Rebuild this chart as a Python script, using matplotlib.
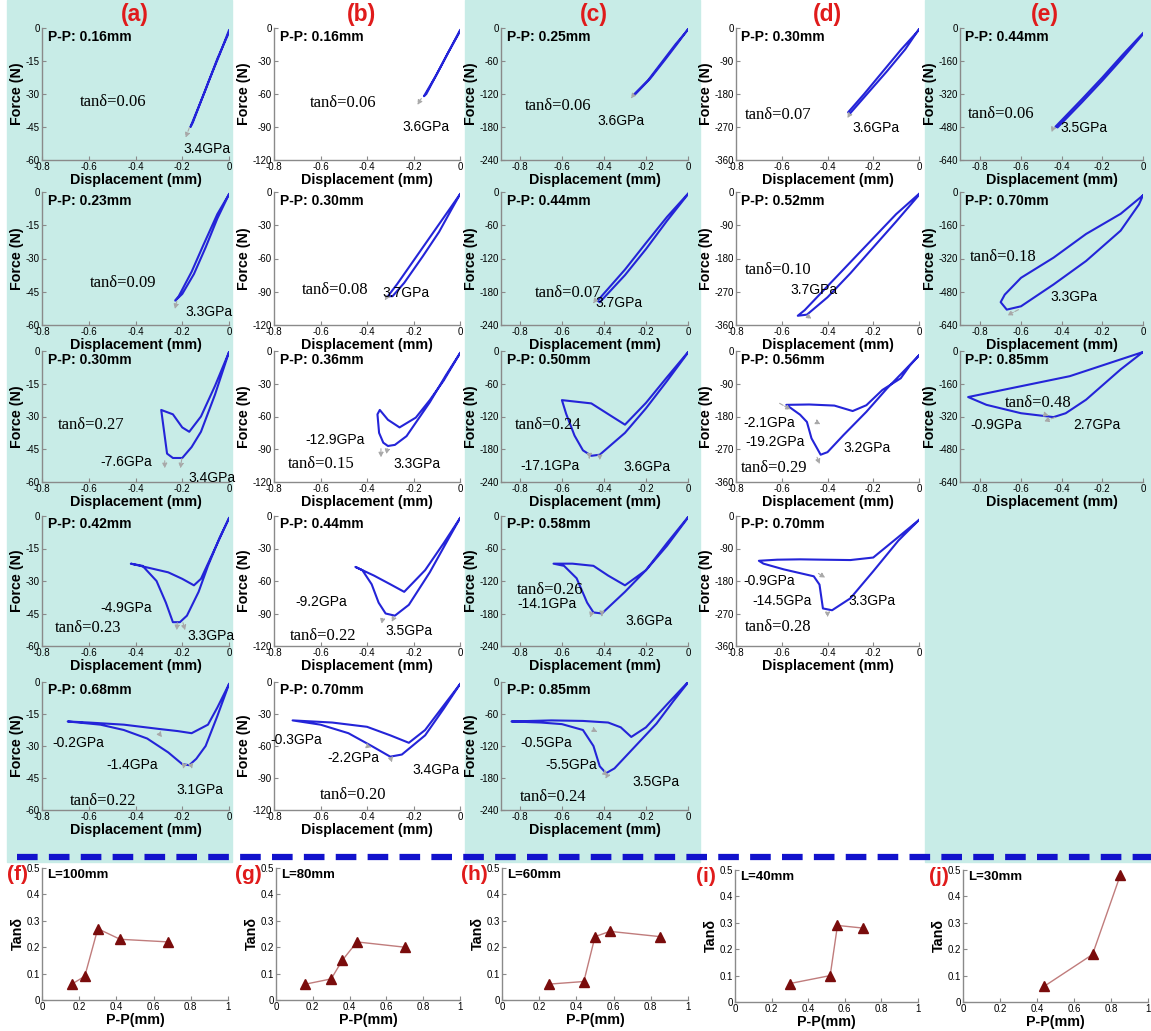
import matplotlib.pyplot as plt
from matplotlib.patches import Rectangle
from matplotlib.lines import Line2D

plt.rcParams['font.family'] = ['Liberation Sans', 'DejaVu Sans']

# ---------------- data ----------------
# peak-to-peak displacement and loss factor for each column
pp_a = [0.16, 0.23, 0.30, 0.42, 0.68]
tan_a = [0.06, 0.09, 0.27, 0.23, 0.22]
pp_b = [0.16, 0.30, 0.36, 0.44, 0.70]
tan_b = [0.06, 0.08, 0.15, 0.22, 0.20]
pp_c = [0.25, 0.44, 0.50, 0.58, 0.85]
tan_c = [0.06, 0.07, 0.24, 0.26, 0.24]
pp_d = [0.30, 0.52, 0.56, 0.70]
tan_d = [0.07, 0.10, 0.29, 0.28]
pp_e = [0.44, 0.70, 0.85]
tan_e = [0.06, 0.18, 0.48]
lengths = ['L=100mm', 'L=80mm', 'L=60mm', 'L=40mm', 'L=30mm']

# modulus labels per panel
mod_a = [['3.4GPa'], ['3.3GPa'], ['-7.6GPa', '3.4GPa'], ['-4.9GPa', '3.3GPa'],
         ['-0.2GPa', '-1.4GPa', '3.1GPa']]
mod_b = [['3.6GPa'], ['3.7GPa'], ['-12.9GPa', '3.3GPa'], ['-9.2GPa', '3.5GPa'],
         ['-0.3GPa', '-2.2GPa', '3.4GPa']]
mod_c = [['3.6GPa'], ['3.7GPa'], ['-17.1GPa', '3.6GPa'], ['-14.1GPa', '3.6GPa'],
         ['-0.5GPa', '-5.5GPa', '3.5GPa']]
mod_d = [['3.6GPa'], ['3.7GPa'], ['-2.1GPa', '-19.2GPa', '3.2GPa'],
         ['-0.9GPa', '-14.5GPa', '3.3GPa']]
mod_e = [['3.5GPa'], ['3.3GPa'], ['-0.9GPa', '2.7GPa']]

# hysteresis loops (displacement mm, force N)
loop_a1 = [(0, -2), (-0.05, -14), (-0.1, -28), (-0.165, -45), (-0.155, -43), (-0.09, -25), (-0.04, -12), (0, -1)]
loop_a2 = [(0, -1), (-0.05, -12), (-0.1, -25), (-0.15, -37), (-0.2, -46), (-0.23, -49), (-0.215, -47),
           (-0.16, -36), (-0.11, -24), (-0.05, -10), (0, -1)]
loop_a3 = [(0, -0.5), (-0.06, -16), (-0.12, -30), (-0.17, -37), (-0.2, -35), (-0.24, -29), (-0.29, -27),
           (-0.28, -35), (-0.265, -47), (-0.24, -49), (-0.2, -49), (-0.16, -44), (-0.12, -37),
           (-0.06, -20), (0, -0.5)]
loop_a4 = [(0, -1), (-0.06, -15), (-0.12, -29), (-0.15, -32), (-0.2, -29), (-0.26, -26), (-0.34, -24),
           (-0.42, -22), (-0.37, -23), (-0.31, -30), (-0.27, -40), (-0.24, -49), (-0.21, -49),
           (-0.18, -46), (-0.13, -35), (-0.09, -23), (-0.04, -10), (0, -1)]
loop_a5 = [(0, -1), (-0.05, -12), (-0.09, -20), (-0.16, -24), (-0.22, -23), (-0.3, -22), (-0.45, -20),
           (-0.6, -19), (-0.69, -18.5), (-0.55, -20), (-0.45, -22.5), (-0.35, -26.5), (-0.26, -33),
           (-0.2, -38.5), (-0.17, -39), (-0.14, -36), (-0.1, -30), (-0.05, -16), (0, -1)]
loop_b1 = [(0, -3), (-0.05, -22), (-0.1, -42), (-0.155, -62), (-0.145, -60), (-0.095, -40), (-0.045, -20), (0, -2)]
loop_b2 = [(0, -2), (-0.06, -20), (-0.12, -38), (-0.2, -62), (-0.27, -83), (-0.31, -94), (-0.29, -94),
           (-0.24, -82), (-0.16, -58), (-0.09, -36), (-0.04, -17), (0, -2)]
loop_b3 = [(0, -2), (-0.07, -27), (-0.13, -45), (-0.19, -61), (-0.26, -70), (-0.31, -63), (-0.345, -54),
           (-0.355, -58), (-0.348, -75), (-0.33, -84), (-0.31, -87), (-0.28, -86), (-0.23, -78),
           (-0.13, -47), (-0.06, -22), (0, -2)]
loop_b4 = [(0, -2), (-0.07, -25), (-0.15, -50), (-0.24, -70), (-0.3, -63), (-0.37, -55), (-0.45, -47),
           (-0.42, -50), (-0.38, -63), (-0.35, -80), (-0.32, -90), (-0.28, -92), (-0.22, -82),
           (-0.13, -52), (-0.06, -25), (0, -2)]
loop_b5 = [(0, -2), (-0.07, -22), (-0.15, -45), (-0.22, -57), (-0.3, -50), (-0.4, -42), (-0.55, -38),
           (-0.72, -36), (-0.6, -40), (-0.48, -48), (-0.38, -60), (-0.3, -70), (-0.25, -68),
           (-0.15, -50), (-0.07, -25), (0, -2)]
loop_c1 = [(0, -3), (-0.06, -30), (-0.12, -60), (-0.19, -95), (-0.26, -122), (-0.25, -120),
           (-0.18, -92), (-0.11, -58), (-0.05, -28), (0, -2)]
loop_c2 = [(0, -3), (-0.1, -45), (-0.2, -92), (-0.3, -140), (-0.43, -196), (-0.42, -199),
           (-0.3, -150), (-0.2, -103), (-0.1, -52), (0, -4)]
loop_c3 = [(0, -2), (-0.1, -48), (-0.2, -95), (-0.3, -135), (-0.37, -118), (-0.46, -96), (-0.6, -90),
           (-0.58, -115), (-0.54, -155), (-0.5, -182), (-0.46, -192), (-0.42, -190), (-0.3, -150),
           (-0.2, -105), (-0.1, -55), (0, -3)]
loop_c4 = [(0, -2), (-0.1, -50), (-0.2, -100), (-0.3, -128), (-0.38, -110), (-0.45, -92), (-0.55, -88),
           (-0.64, -88), (-0.59, -92), (-0.53, -115), (-0.48, -160), (-0.45, -178), (-0.41, -180),
           (-0.3, -140), (-0.2, -100), (-0.1, -55), (0, -3)]
loop_c5 = [(0, 0), (-0.1, -42), (-0.2, -85), (-0.27, -103), (-0.32, -85), (-0.38, -76), (-0.5, -73),
           (-0.65, -72), (-0.84, -74), (-0.7, -76), (-0.6, -79), (-0.5, -90), (-0.45, -120),
           (-0.42, -158), (-0.39, -171), (-0.35, -162), (-0.25, -120), (-0.15, -78), (-0.07, -36), (0, -1)]
loop_d1 = [(0, -5), (-0.08, -60), (-0.16, -120), (-0.24, -180), (-0.31, -230), (-0.3, -232),
           (-0.22, -175), (-0.14, -118), (-0.06, -58), (0, -3)]
loop_d2 = [(0, -5), (-0.1, -60), (-0.2, -125), (-0.3, -190), (-0.4, -255), (-0.5, -320), (-0.53, -335),
           (-0.49, -332), (-0.4, -285), (-0.3, -220), (-0.2, -150), (-0.1, -80), (0, -8)]
loop_d3 = [(0, -12), (-0.04, -40), (-0.08, -75), (-0.16, -107), (-0.23, -149), (-0.29, -165),
           (-0.37, -150), (-0.48, -147), (-0.58, -148), (-0.52, -175), (-0.49, -195), (-0.47, -240),
           (-0.43, -285), (-0.4, -278), (-0.33, -231), (-0.23, -167), (-0.14, -103), (-0.055, -48), (0, -12)]
loop_d4 = [(0, -11), (-0.09, -58), (-0.2, -115), (-0.3, -122), (-0.42, -121), (-0.52, -120), (-0.62, -121),
           (-0.7, -124), (-0.68, -132), (-0.59, -148), (-0.46, -167), (-0.435, -190), (-0.42, -256),
           (-0.38, -261), (-0.3, -228), (-0.2, -153), (-0.09, -68), (0, -11)]
loop_e1 = [(0, -25), (-0.1, -130), (-0.2, -240), (-0.3, -345), (-0.43, -478), (-0.42, -482),
           (-0.3, -360), (-0.2, -255), (-0.1, -145), (0, -30)]
loop_e2 = [(0, -16), (-0.11, -105), (-0.28, -202), (-0.44, -316), (-0.6, -413), (-0.68, -494),
           (-0.7, -530), (-0.67, -566), (-0.6, -550), (-0.44, -445), (-0.28, -332), (-0.11, -186),
           (-0.02, -60), (0, -16)]
loop_e3 = [(0, -5), (-0.11, -41), (-0.36, -123), (-0.6, -172), (-0.86, -225), (-0.77, -263),
           (-0.6, -304), (-0.44, -323), (-0.38, -304), (-0.28, -238), (-0.11, -90), (0, -5)]

# gray slope arrows (tail, head) in data units
arr_a = [[((-0.165, -44), (-0.19, -51))], [((-0.22, -48), (-0.235, -54))],
         [((-0.275, -49), (-0.275, -55)), ((-0.2, -48), (-0.21, -55))],
         [((-0.22, -48), (-0.225, -54)), ((-0.2, -48), (-0.185, -54))],
         [((-0.3, -24), (-0.28, -27)), ((-0.19, -38), (-0.2, -42)), ((-0.165, -38), (-0.155, -42))]]
arr_b = [[((-0.16, -62), (-0.19, -72))], [((-0.31, -93), (-0.33, -100))],
         [((-0.34, -87), (-0.34, -100)), ((-0.31, -87), (-0.32, -97))],
         [((-0.33, -92), (-0.34, -102)), ((-0.28, -92), (-0.3, -100))],
         [((-0.4, -60), (-0.37, -62)), ((-0.3, -70), (-0.29, -78))]]
arr_c = [[((-0.26, -122), (-0.28, -132))], [((-0.44, -195), (-0.46, -205))],
         [((-0.47, -190), (-0.47, -202)), ((-0.42, -190), (-0.42, -200))],
         [((-0.46, -180), (-0.47, -192)), ((-0.41, -178), (-0.41, -190))],
         [((-0.45, -90), (-0.42, -96)), ((-0.38, -172), (-0.4, -186)), ((-0.4, -170), (-0.37, -178))]]
arr_d = [[((-0.3, -232), (-0.32, -252))], [((-0.5, -330), (-0.46, -348))],
         [((-0.62, -140), (-0.55, -165)), ((-0.45, -195), (-0.42, -205)), ((-0.45, -285), (-0.43, -318))],
         [((-0.45, -155), (-0.4, -175)), ((-0.4, -265), (-0.4, -288))]]
arr_e = [[((-0.44, -480), (-0.45, -505))], [((-0.6, -560), (-0.68, -600))],
         [((-0.5, -305), (-0.45, -320)), ((-0.42, -320), (-0.5, -348))]]

# ---------------- layout (pixels of the original) ----------------
W, H = 1151, 1031
fig = plt.figure(figsize=(W / 100, H / 100), dpi=100)


def fx(px):
    return px / W


def fy(py):
    return 1 - py / H


def add_ax(l, t, r, b):
    return fig.add_axes([fx(l), fy(b), fx(r - l), (b - t) / H])


# teal column backgrounds
for x0, x1 in [(7, 232), (465, 700), (925, 1151)]:
    fig.patches.append(Rectangle((fx(x0), fy(862)), fx(x1 - x0), 862 / H,
                                 transform=fig.transFigure, color='#c8ece7', zorder=-10))

fig.add_artist(Line2D([fx(17), fx(1151)], [fy(857), fy(857)], color='#1212cc', lw=4.5,
                      dashes=(3.3, 1.8), transform=fig.transFigure, zorder=-5))

col_x = [(42, 229), (274, 460), (501, 688), (736, 919), (960, 1143)]
row_y = [(28, 160), (192, 325), (351, 482), (516, 646), (682, 810)]
col_xmin = [-0.8, -0.8, -0.89, -0.8, -0.9]
col_fmax = [60, 120, 240, 360, 640]
col_letter_x = [135, 362, 594, 827, 1045]
letters = ['(a)', '(b)', '(c)', '(d)', '(e)']

loops = [[loop_a1, loop_a2, loop_a3, loop_a4, loop_a5],
         [loop_b1, loop_b2, loop_b3, loop_b4, loop_b5],
         [loop_c1, loop_c2, loop_c3, loop_c4, loop_c5],
         [loop_d1, loop_d2, loop_d3, loop_d4],
         [loop_e1, loop_e2, loop_e3]]
pps = [pp_a, pp_b, pp_c, pp_d, pp_e]
tans = [tan_a, tan_b, tan_c, tan_d, tan_e]
mods = [mod_a, mod_b, mod_c, mod_d, mod_e]
arrows = [arr_a, arr_b, arr_c, arr_d, arr_e]

# text positions (left px, centre px)
tan_pos = [[(80, 102), (90, 283), (58, 425), (55, 628), (70, 801)],
           [(310, 103), (302, 290), (288, 464), (290, 636), (320, 795)],
           [(525, 106), (535, 293), (515, 425), (517, 590), (520, 797)],
           [(745, 115), (745, 270), (741, 468), (745, 627)],
           [(968, 114), (970, 257), (1005, 403)]]
mod_pos = [[[(183, 149)], [(185, 312)], [(100, 462), (188, 478)], [(100, 608), (187, 636)],
            [(52, 743), (106, 765), (176, 790)]],
           [[(402, 127)], [(382, 293)], [(305, 440), (393, 464)], [(295, 602), (385, 631)],
            [(270, 740), (327, 758), (412, 770)]],
           [[(597, 121)], [(595, 303)], [(520, 466), (623, 467)], [(517, 604), (625, 621)],
            [(520, 743), (545, 765), (632, 782)]],
           [[(852, 128)], [(790, 290)], [(743, 423), (745, 442), (843, 448)],
            [(743, 581), (752, 601), (848, 601)]],
           [[(1060, 128)], [(1050, 297)], [(970, 425), (1073, 425)]]]


def style(ax):
    for s in ['top', 'right']:
        ax.spines[s].set_visible(False)
    for s in ['left', 'bottom']:
        ax.spines[s].set_color('#8a8a8a')
        ax.spines[s].set_linewidth(1.0)
    ax.patch.set_alpha(0)
    ax.tick_params(direction='in', length=3, width=0.8, color='#8a8a8a', labelsize=7, pad=1.5)


for c in range(5):
    x0, x1 = col_x[c]
    fmax = col_fmax[c]
    fig.text(fx(col_letter_x[c]), fy(15), letters[c], color='#e01b1b', fontsize=16.5,
             fontweight='bold', ha='center', va='center')
    for r, loop in enumerate(loops[c]):
        t, b = row_y[r]
        ax = add_ax(x0, t, x1, b)
        style(ax)
        xs = [p[0] for p in loop]
        ys = [p[1] for p in loop]
        ax.plot(xs, ys, color='#2424d8', lw=1.5)
        for tail, head in arrows[c][r]:
            ax.annotate('', xy=head, xytext=tail,
                        arrowprops=dict(arrowstyle='-|>', color='#a8a8a8', lw=0.8, ls='--',
                                        mutation_scale=7))
        ax.set_xlim(col_xmin[c], 0)
        ax.set_ylim(-fmax, 0)
        ax.set_xticks([-0.8, -0.6, -0.4, -0.2, 0])
        ax.set_xticklabels(['-0.8', '-0.6', '-0.4', '-0.2', '0'])
        ax.set_yticks([0, -fmax / 4, -fmax / 2, -3 * fmax / 4, -fmax])
        ax.set_yticklabels([str(int(v)) for v in [0, -fmax / 4, -fmax / 2, -3 * fmax / 4, -fmax]])
        ax.set_xlabel('Displacement (mm)', fontsize=10.3, fontweight='bold', labelpad=1)
        ax.set_ylabel('Force (N)', fontsize=10.3, fontweight='bold', labelpad=1)
        ax.text(0.03, 0.935, 'P-P: %.2fmm' % pps[c][r], transform=ax.transAxes,
                fontsize=10, fontweight='bold', va='center')
        tx, ty = tan_pos[c][r]
        fig.text(fx(tx), fy(ty), 'tanδ=%.2f' % tans[c][r], fontsize=12,
                 family=['Liberation Serif', 'DejaVu Serif'], va='center')
        for lab, (mx, my) in zip(mods[c][r], mod_pos[c][r]):
            fig.text(fx(mx), fy(my), lab, fontsize=10, va='center')

# bottom row: tan delta against P-P
bot_x = [(42, 228), (276, 460), (502, 688), (735, 918), (963, 1148)]
bot_y = [(868, 1000), (868, 1000), (868, 1000), (870, 1002), (870, 1002)]
bot_letters = ['(f)', '(g)', '(h)', '(i)', '(j)']
bot_letter_x = [7, 235, 461, 696, 929]
for c in range(5):
    l, r = bot_x[c]
    t, b = bot_y[c]
    ax = add_ax(l, t, r, b)
    style(ax)
    ax.plot(pps[c], tans[c], color='#c07c7c', lw=1.0, marker='^', ms=6.5,
            mfc='#7a0c0c', mec='#7a0c0c')
    ax.set_xlim(0, 1)
    ax.set_ylim(0, 0.5)
    ax.set_xticks([0, 0.2, 0.4, 0.6, 0.8, 1])
    ax.set_xticklabels(['0', '0.2', '0.4', '0.6', '0.8', '1'])
    ax.set_yticks([0, 0.1, 0.2, 0.3, 0.4, 0.5])
    ax.set_yticklabels(['0', '0.1', '0.2', '0.3', '0.4', '0.5'])
    ax.set_xlabel('P-P(mm)', fontsize=10.3, fontweight='bold', labelpad=1)
    ax.set_ylabel('Tanδ', fontsize=10.3, fontweight='bold', labelpad=1)
    ax.text(0.03, 0.95, lengths[c], transform=ax.transAxes, fontsize=9.5,
            fontweight='bold', va='center')
    fig.text(fx(bot_letter_x[c]), fy(t + 6), bot_letters[c], color='#e01b1b', fontsize=15,
             fontweight='bold', va='center')

fig.savefig('out.png', dpi=100)
